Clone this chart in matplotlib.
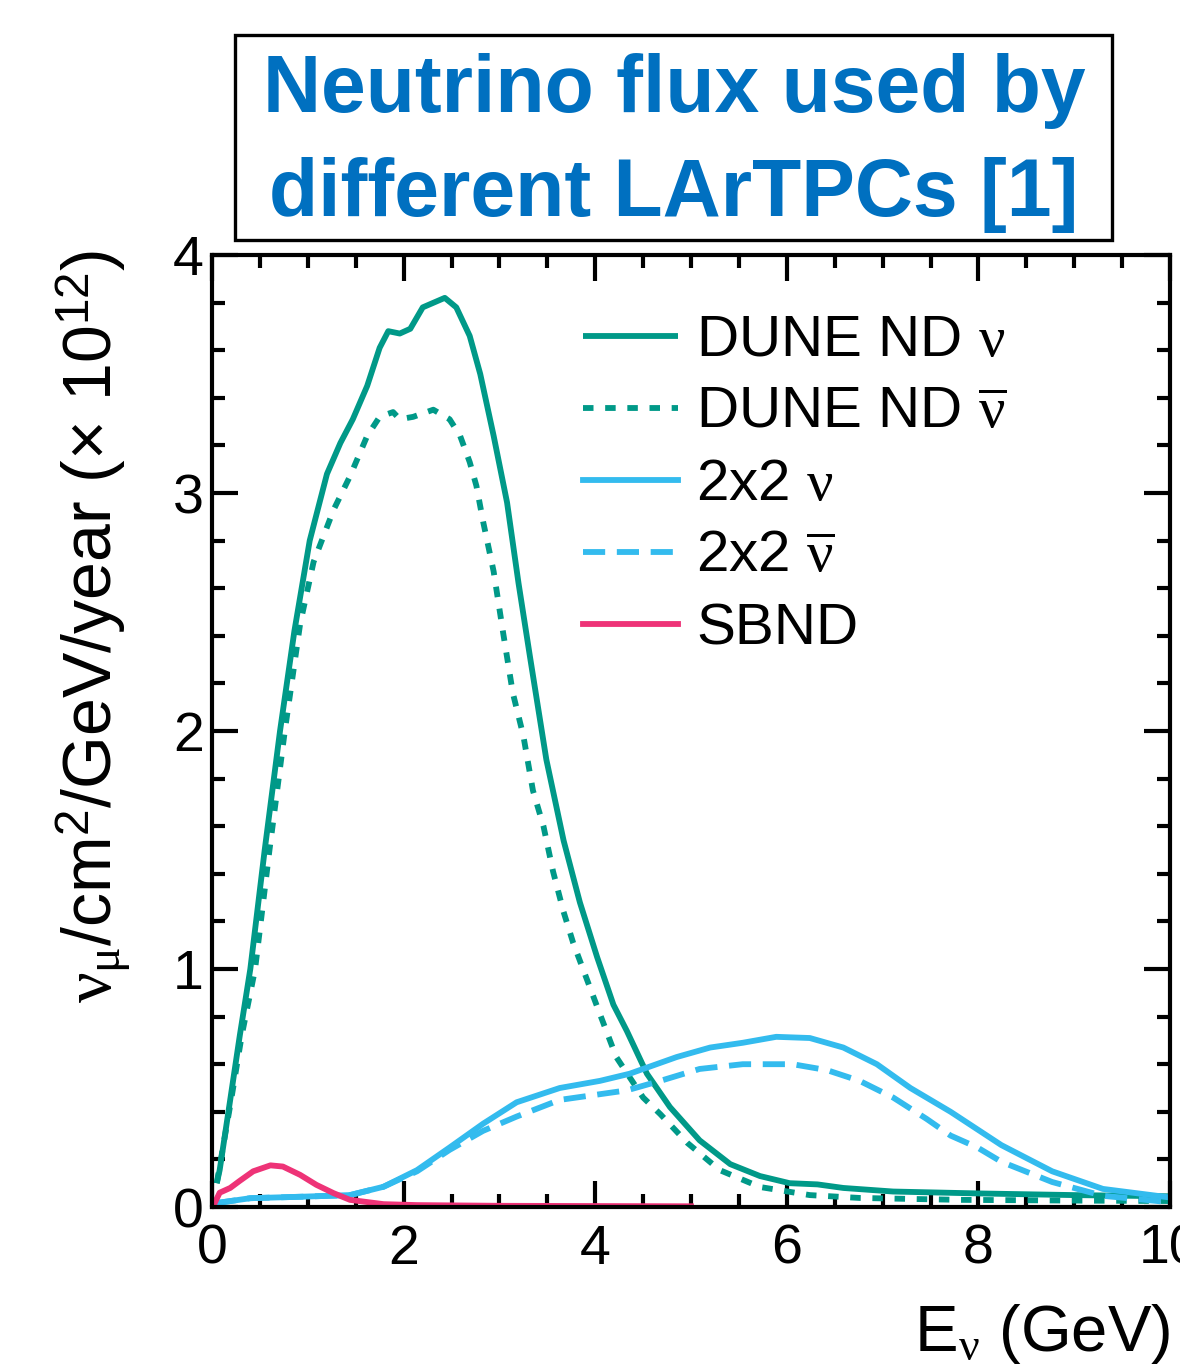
import matplotlib
matplotlib.use("Agg")
import matplotlib.pyplot as plt
from matplotlib.ticker import MultipleLocator, FixedLocator
from matplotlib.patches import Rectangle

plt.rcParams['font.family'] = ['Liberation Sans', 'DejaVu Sans']
plt.rcParams['mathtext.fontset'] = 'custom'
plt.rcParams['mathtext.rm'] = 'Liberation Sans'
plt.rcParams['mathtext.it'] = 'Liberation Serif'
plt.rcParams['mathtext.bf'] = 'Liberation Sans:bold'

# ---------------- data ----------------
dune_nu_x = [0.05, 0.08, 0.19, 0.29, 0.40, 0.55, 0.71, 0.86, 1.02, 1.20, 1.34, 1.47, 1.62, 1.75,
             1.84, 1.96, 2.07, 2.20, 2.43, 2.55, 2.69, 2.80, 2.94, 3.08, 3.20, 3.32, 3.49, 3.67,
             3.84, 4.02, 4.19, 4.33, 4.54, 4.78, 5.09, 5.41, 5.72, 6.03, 6.32, 6.59, 7.11, 8.0,
             9.0, 10.0]
dune_nu_y = [0.10, 0.155, 0.45, 0.72, 1.00, 1.50, 2.00, 2.42, 2.80, 3.08, 3.21, 3.31, 3.45, 3.61,
             3.68, 3.67, 3.69, 3.78, 3.82, 3.78, 3.66, 3.50, 3.24, 2.96, 2.62, 2.31, 1.88, 1.54,
             1.28, 1.05, 0.85, 0.74, 0.56, 0.42, 0.28, 0.18, 0.13, 0.10, 0.095, 0.08, 0.065, 0.057,
             0.05, 0.045]

dune_nubar_x = [0.05, 0.20, 0.31, 0.45, 0.60, 0.76, 0.92, 1.06, 1.27, 1.44, 1.62, 1.75, 1.89, 1.96,
                2.10, 2.31, 2.48, 2.59, 2.69, 2.76, 2.83, 2.94, 3.04, 3.14, 3.25, 3.35, 3.46, 3.56,
                3.67, 3.77, 3.91, 4.05, 4.22, 4.50, 4.68, 4.96, 5.30, 5.72, 6.24, 6.76, 7.81, 9.0,
                10.0]
dune_nubar_y = [0.10, 0.45, 0.72, 1.00, 1.50, 2.00, 2.45, 2.71, 2.93, 3.07, 3.24, 3.32, 3.34, 3.31,
                3.32, 3.35, 3.31, 3.24, 3.13, 3.03, 2.88, 2.67, 2.41, 2.16, 1.98, 1.75, 1.60, 1.41,
                1.24, 1.11, 0.96, 0.81, 0.63, 0.46, 0.39, 0.27, 0.155, 0.084, 0.05, 0.038, 0.03,
                0.027, 0.025]

twox2_nu_x = [0.02, 0.40, 0.92, 1.44, 1.79, 2.14, 2.48, 2.83, 3.18, 3.63, 4.05, 4.36, 4.85, 5.20,
              5.54, 5.89, 6.24, 6.59, 6.94, 7.29, 7.71, 8.24, 8.77, 9.30, 10.0]
twox2_nu_y = [0.015, 0.037, 0.043, 0.05, 0.085, 0.155, 0.25, 0.35, 0.44, 0.50, 0.53, 0.56, 0.63,
              0.67, 0.69, 0.715, 0.71, 0.67, 0.60, 0.50, 0.40, 0.26, 0.15, 0.076, 0.04]

twox2_nubar_x = [0.02, 0.40, 0.92, 1.44, 1.79, 2.14, 2.48, 2.83, 3.18, 3.63, 4.33, 4.68, 5.09, 5.54,
                 6.06, 6.42, 6.76, 7.11, 7.46, 7.71, 7.99, 8.24, 8.77, 9.30, 10.0]
twox2_nubar_y = [0.015, 0.037, 0.043, 0.05, 0.085, 0.15, 0.24, 0.32, 0.38, 0.45, 0.49, 0.53, 0.58,
                 0.60, 0.60, 0.575, 0.53, 0.46, 0.37, 0.30, 0.25, 0.19, 0.105, 0.047, 0.02]

sbnd_x = [0.02, 0.08, 0.19, 0.29, 0.43, 0.61, 0.74, 0.92, 1.09, 1.27, 1.44, 1.79, 2.14, 3.0, 4.0, 5.0]
sbnd_y = [0.01, 0.06, 0.08, 0.11, 0.15, 0.175, 0.17, 0.135, 0.093, 0.058, 0.03, 0.012, 0.008,
          0.005, 0.004, 0.003]

labels = [r"DUNE ND $\nu$", r"DUNE ND $\overline{\nu}$", r"2x2 $\nu$", r"2x2 $\overline{\nu}$", "SBND"]
x_ticks = [0, 2, 4, 6, 8, 10]
y_ticks = [0, 1, 2, 3, 4]

GREEN = "#009988"
CYAN = "#33BBEE"
MAGENTA = "#EE3377"

# ---------------- figure ----------------
W, H = 1180, 1369
fig = plt.figure(figsize=(W / 100, H / 100), dpi=100)
ax = fig.add_axes([212 / W, 1 - 1207 / H, (1170 - 212) / W, (1207 - 255) / H])

lw = 4.2
ax.plot(dune_nu_x, dune_nu_y, color=GREEN, lw=lw, label=labels[0],
        solid_joinstyle='round', solid_capstyle='butt')
ax.plot(dune_nubar_x, dune_nubar_y, color=GREEN, lw=lw, ls=(0, (1.8, 2.0)), label=labels[1])
ax.plot(twox2_nu_x, twox2_nu_y, color=CYAN, lw=lw, label=labels[2], solid_joinstyle='round')
ax.plot(twox2_nubar_x, twox2_nubar_y, color=CYAN, lw=lw, ls=(0, (3.8, 2.0)), label=labels[3])
ax.plot(sbnd_x, sbnd_y, color=MAGENTA, lw=lw, label=labels[4], solid_joinstyle='round')

ax.set_xlim(0, 10)
ax.set_ylim(0, 4)
ax.xaxis.set_major_locator(FixedLocator(x_ticks))
ax.yaxis.set_major_locator(FixedLocator(y_ticks))
ax.xaxis.set_minor_locator(MultipleLocator(0.5))
ax.yaxis.set_minor_locator(MultipleLocator(0.2))
ax.set_xticklabels([str(t) for t in x_ticks])
ax.set_yticklabels([str(t) for t in y_ticks])

for s in ax.spines.values():
    s.set_linewidth(3)
ax.tick_params(which='both', direction='in', top=True, right=True, width=3, labelsize=40)
ax.tick_params(which='major', length=19)
ax.tick_params(which='minor', length=9.5)
ax.tick_params(axis='x', pad=12)
ax.tick_params(axis='y', pad=6)

ax.set_xlabel(r"E$_{\nu}$ (GeV)", fontsize=47, loc='right')
ax.xaxis.set_label_coords(1.0, -0.100)
ax.set_ylabel(r"$\nu_{\mu}$/cm$^{2}$/GeV/year (× 10$^{12}$)", fontsize=49, loc='top')
ax.yaxis.set_label_coords(-0.082, 1.005)

leg = ax.legend(loc='upper left', bbox_to_anchor=(583 / W, 1 - 314 / H),
                bbox_transform=fig.transFigure, frameon=False, fontsize=42,
                handlelength=1.62, handletextpad=0.32, labelspacing=0.31,
                borderpad=0, borderaxespad=0)

# title box
fig.patches.append(Rectangle((235 / W, 1 - 240 / H), (1112 - 235) / W, (240 - 35) / H,
                             transform=fig.transFigure, fill=False, ec='black', lw=2.4))
fig.text(674 / W, 1 - 143 / H, "Neutrino flux used by\ndifferent LArTPCs [1]",
         ha='center', va='center', fontsize=58, fontweight='bold', color="#0070C0",
         linespacing=1.46)

fig.savefig("out.png", dpi=100)
